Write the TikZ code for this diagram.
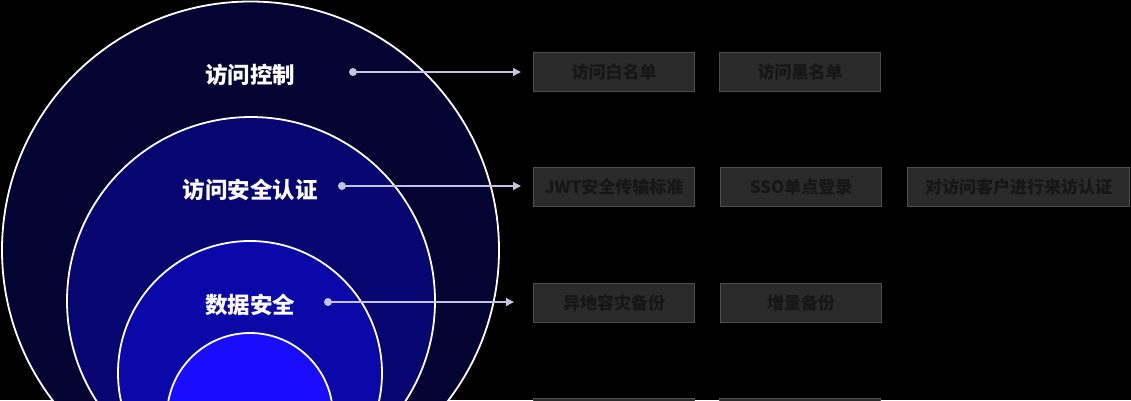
\documentclass[tikz,border=0pt]{standalone}
\usepackage{fontspec}
\newfontfamily\cjk{Noto Sans CJK SC}
\usetikzlibrary{arrows.meta}
\definecolor{ringA}{HTML}{040432}
\definecolor{ringB}{HTML}{070670}
\definecolor{ringC}{HTML}{0A08A8}
\definecolor{ringD}{HTML}{1A0CFF}
\definecolor{linkc}{HTML}{C4C4E0}
\definecolor{boxfill}{HTML}{2A2A2A}
\definecolor{boxline}{HTML}{4E4E4E}
\definecolor{boxtext}{HTML}{161616}
\tikzset{
  ring/.style={draw=white, line width=1.8pt},
  layer/.style={font=\cjk\bfseries\fontsize{22.5}{26}\selectfont, text=white, inner sep=0pt},
  dotn/.style={circle, fill=linkc, inner sep=0pt, minimum size=8pt},
  link/.style={draw=linkc, line width=1.4pt, -{Triangle[length=8pt,width=8pt]}},
  itembox/.style={draw=boxline, fill=boxfill, line width=1.2pt, minimum height=39pt,
     inner sep=0pt, font=\cjk\bfseries\fontsize{17}{20}\selectfont, text=boxtext, anchor=north west},
}
\begin{document}
\begin{tikzpicture}[x=1pt,y=-1pt]
\useasboundingbox (0,0) rectangle (1131,400);
\fill[black] (0,0) rectangle (1131,400);
\begin{scope}
\clip (0,0) rectangle (1131,400);
\filldraw[ring, fill=ringA] (250.5,250) circle[radius=248.5];
\filldraw[ring, fill=ringB] (251,301) circle[radius=184];
\filldraw[ring, fill=ringC] (250,373) circle[radius=132];
\filldraw[ring, fill=ringD] (250,416) circle[radius=83];
\end{scope}
\node[layer] (l1) at (250,75) {访问控制};
\node[layer] (l2) at (250,190) {访问安全认证};
\node[layer] (l3) at (250,305) {数据安全};
\node[dotn] (d1) at (353,72) {};
\node[dotn] (d2) at (342,186) {};
\node[dotn] (d3) at (328,302) {};
\coordinate (e1) at (521,72);
\coordinate (e2) at (521,186);
\coordinate (e3) at (514,302);
\draw[link] (d1.center) -- (e1);
\draw[link] (d2.center) -- (e2);
\draw[link] (d3.center) -- (e3);
\node[itembox, minimum width=161pt] (b11) at (533,52) {访问白名单};
\node[itembox, minimum width=161pt] (b12) at (719,52) {访问黑名单};
\node[itembox, minimum width=161pt] (b21) at (533,167) {JWT安全传输标准};
\node[itembox, minimum width=161pt] (b22) at (720,167) {SSO单点登录};
\node[itembox, minimum width=222pt] (b23) at (907,167) {对访问客户进行来访认证};
\node[itembox, minimum width=161pt] (b31) at (533,283) {异地容灾备份};
\node[itembox, minimum width=161pt] (b32) at (720,283) {增量备份};
\node[itembox, minimum width=161pt] (b41) at (533,398) {};
\node[itembox, minimum width=161pt] (b42) at (719,398) {};
\end{tikzpicture}
\end{document}
